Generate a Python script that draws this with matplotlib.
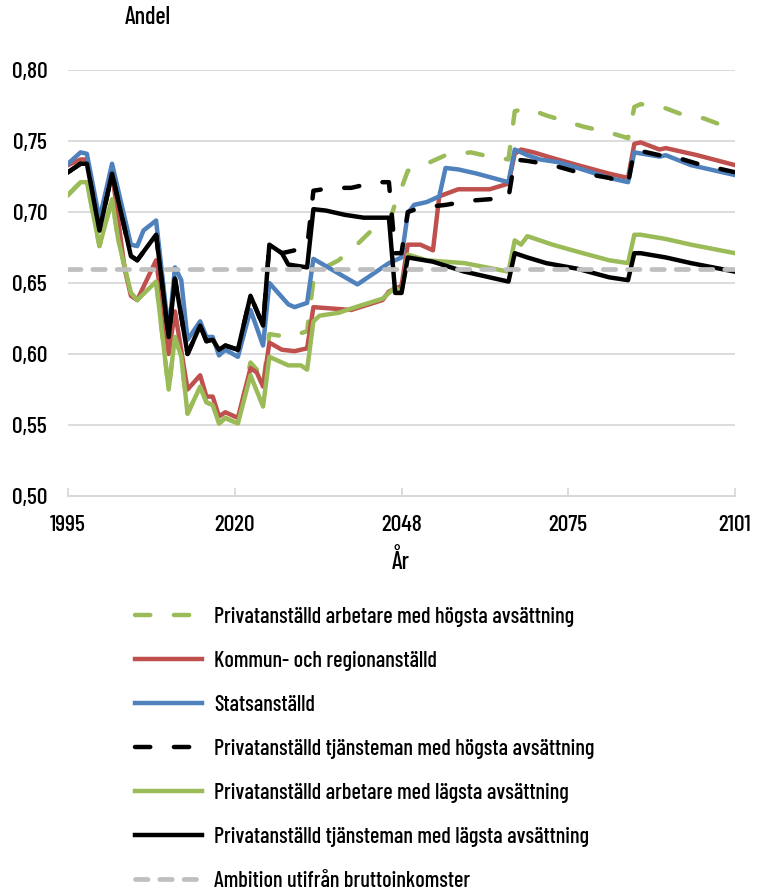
import matplotlib
matplotlib.use("Agg")  # headless
import matplotlib.pyplot as plt
import numpy as np

plt.rcParams["font.family"] = ["Barlow Condensed", "DejaVu Sans"]
plt.rcParams["font.weight"] = 500
plt.rcParams["lines.scale_dashes"] = False

GREEN, RED, BLUE, GRAY, GRID = "#9BBB59", "#C0504D", "#4F81BD", "#BFBFBF", "#D9D9D9"

# ---------- data ----------
# Privatanställd arbetare med högsta avsättning
yrs_arb_hog = [1995, 1997, 1998, 2000, 2002, 2003, 2005, 2006, 2009, 2011, 2012, 2013, 2014, 2016,
               2017, 2018, 2019, 2020, 2022, 2024, 2025, 2026, 2027, 2030, 2033, 2034, 2035, 2038,
               2040, 2043, 2046, 2047, 2048, 2049, 2052, 2055, 2059, 2061, 2065, 2066, 2068, 2071,
               2074, 2077, 2081, 2084, 2085, 2086, 2090, 2093, 2096, 2099, 2101]
arb_hog = [0.712, 0.721, 0.721, 0.676, 0.709, 0.680, 0.643, 0.638, 0.651, 0.575, 0.612, 0.598, 0.558, 0.577,
           0.566, 0.564, 0.551, 0.555, 0.551, 0.594, 0.589, 0.578, 0.614, 0.612, 0.616, 0.652, 0.659, 0.666,
           0.673, 0.686, 0.692, 0.706, 0.717, 0.729, 0.734, 0.740, 0.742, 0.740, 0.737, 0.771, 0.773, 0.768,
           0.764, 0.760, 0.756, 0.752, 0.774, 0.776, 0.773, 0.768, 0.766, 0.761, 0.758]

# Kommun- och regionanställd
yrs_kommun = [1995, 1997, 1998, 2000, 2002, 2004, 2005, 2006, 2009, 2011, 2012, 2014, 2016, 2017,
              2018, 2019, 2020, 2022, 2024, 2025, 2026, 2027, 2029, 2031, 2033, 2034, 2037, 2040,
              2045, 2046, 2048, 2049, 2051, 2053, 2054, 2057, 2062, 2065, 2066, 2067, 2069, 2072,
              2076, 2081, 2084, 2085, 2086, 2089, 2090, 2095, 2101]
kommun = [0.733, 0.737, 0.737, 0.690, 0.728, 0.660, 0.641, 0.638, 0.666, 0.600, 0.630, 0.575, 0.585, 0.570,
          0.570, 0.556, 0.559, 0.555, 0.590, 0.587, 0.577, 0.608, 0.603, 0.602, 0.604, 0.633, 0.632, 0.631,
          0.638, 0.644, 0.648, 0.677, 0.677, 0.673, 0.711, 0.716, 0.716, 0.720, 0.741, 0.744, 0.742, 0.738,
          0.733, 0.727, 0.724, 0.748, 0.749, 0.744, 0.745, 0.740, 0.733]

# Statsanställd
yrs_stat = [1995, 1996, 1997, 1998, 2000, 2002, 2005, 2006, 2007, 2009, 2011, 2012, 2013, 2014, 2016,
            2017, 2018, 2019, 2020, 2022, 2024, 2026, 2027, 2030, 2031, 2033, 2034, 2041, 2046, 2048,
            2049, 2050, 2052, 2054, 2055, 2057, 2060, 2065, 2066, 2068, 2070, 2073, 2076, 2081, 2084,
            2085, 2089, 2090, 2094, 2101]
stat = [0.734, 0.738, 0.742, 0.741, 0.695, 0.734, 0.677, 0.676, 0.687, 0.694, 0.615, 0.661, 0.652, 0.610, 0.623,
        0.612, 0.612, 0.599, 0.603, 0.598, 0.631, 0.606, 0.650, 0.635, 0.633, 0.636, 0.667, 0.649, 0.664, 0.668,
        0.699, 0.705, 0.707, 0.711, 0.731, 0.730, 0.727, 0.721, 0.744, 0.740, 0.737, 0.735, 0.731, 0.724, 0.721,
        0.742, 0.739, 0.740, 0.733, 0.726]

# Privatanställd tjänsteman med högsta avsättning
yrs_tj_hog = [1995, 1997, 1998, 2000, 2002, 2005, 2006, 2009, 2011, 2012, 2014, 2016, 2017, 2018, 2019,
              2020, 2022, 2024, 2026, 2027, 2029, 2033, 2034, 2037, 2040, 2044, 2046, 2047, 2048, 2049,
              2051, 2055, 2059, 2062, 2065, 2066, 2068, 2072, 2076, 2081, 2084, 2085, 2089, 2092, 2095, 2101]
tj_hog = [0.728, 0.734, 0.734, 0.687, 0.727, 0.669, 0.666, 0.684, 0.612, 0.653, 0.600, 0.620, 0.609, 0.610, 0.603,
          0.606, 0.603, 0.641, 0.620, 0.677, 0.671, 0.675, 0.715, 0.717, 0.717, 0.721, 0.721, 0.671, 0.671, 0.700,
          0.703, 0.705, 0.708, 0.709, 0.710, 0.737, 0.736, 0.733, 0.728, 0.724, 0.720, 0.744, 0.740, 0.738, 0.734, 0.728]

# Privatanställd arbetare med lägsta avsättning
yrs_arb_lag = [1995, 1997, 1998, 2000, 2002, 2003, 2005, 2006, 2009, 2011, 2012, 2013, 2014, 2016, 2017,
               2018, 2019, 2020, 2022, 2024, 2026, 2027, 2030, 2032, 2033, 2034, 2035, 2038, 2040, 2045,
               2047, 2048, 2049, 2052, 2058, 2065, 2066, 2067, 2068, 2072, 2076, 2081, 2084, 2085, 2086,
               2090, 2094, 2101]
arb_lag = [0.712, 0.721, 0.721, 0.676, 0.709, 0.680, 0.643, 0.638, 0.651, 0.575, 0.612, 0.598, 0.558, 0.577, 0.566,
           0.564, 0.551, 0.555, 0.551, 0.585, 0.563, 0.598, 0.592, 0.592, 0.589, 0.623, 0.627, 0.629, 0.632, 0.639,
           0.647, 0.643, 0.670, 0.666, 0.664, 0.658, 0.680, 0.677, 0.683, 0.677, 0.672, 0.666, 0.664, 0.684, 0.684,
           0.681, 0.677, 0.671]

# Privatanställd tjänsteman med lägsta avsättning
yrs_tj_lag = [1995, 1997, 1998, 2000, 2002, 2005, 2006, 2009, 2011, 2012, 2014, 2016, 2017, 2018, 2019,
              2020, 2022, 2024, 2026, 2027, 2029, 2030, 2033, 2034, 2036, 2039, 2042, 2046, 2047, 2048,
              2049, 2053, 2058, 2065, 2066, 2068, 2071, 2076, 2081, 2084, 2085, 2086, 2090, 2094, 2101]
tj_lag = [0.728, 0.734, 0.734, 0.687, 0.727, 0.669, 0.666, 0.684, 0.612, 0.653, 0.600, 0.620, 0.609, 0.610, 0.603,
          0.606, 0.603, 0.641, 0.620, 0.677, 0.671, 0.663, 0.661, 0.702, 0.701, 0.698, 0.696, 0.696, 0.643, 0.643,
          0.668, 0.665, 0.658, 0.651, 0.671, 0.668, 0.664, 0.660, 0.654, 0.652, 0.671, 0.671, 0.668, 0.664, 0.658]

# Ambition utifrån bruttoinkomster
yrs_ambition = [1995, 2101]
ambition = [0.66, 0.66]

y_ticks = [0.50, 0.55, 0.60, 0.65, 0.70, 0.75, 0.80]
x_ticklabels = ["1995", "2020", "2048", "2075", "2101"]

# ---------- plot ----------
fig = plt.figure(figsize=(7.59, 8.91), dpi=100)
ax = fig.add_axes([68 / 759, 1 - 496 / 891, 667 / 759, 426 / 891])

LW = 3.2
common = dict(lw=LW, solid_joinstyle="round", dash_joinstyle="round")
long_dash = (0, (11.0, 17.0))
ax.plot(yrs_arb_hog, arb_hog, color=GREEN, ls=long_dash, dash_capstyle="round",
        label="Privatanställd arbetare med högsta avsättning", **common)
ax.plot(yrs_kommun, kommun, color=RED, label="Kommun- och regionanställd", **common)
ax.plot(yrs_stat, stat, color=BLUE, label="Statsanställd", **common)
ax.plot(yrs_tj_hog, tj_hog, color="black", ls=long_dash, dash_capstyle="round",
        label="Privatanställd tjänsteman med högsta avsättning", **common)
ax.plot(yrs_arb_lag, arb_lag, color=GREEN, label="Privatanställd arbetare med lägsta avsättning", **common)
ax.plot(yrs_tj_lag, tj_lag, color="black", label="Privatanställd tjänsteman med lägsta avsättning", **common)
ax.plot(yrs_ambition, ambition, color=GRAY, lw=3.4, ls=(0, (9.0, 8.5)), dash_capstyle="round",
        label="Ambition utifrån bruttoinkomster")

ax.set_xlim(yrs_ambition[0], yrs_ambition[-1])
ax.set_ylim(y_ticks[0], y_ticks[-1])
ax.set_yticks(y_ticks)
ax.set_yticklabels([f"{v:.2f}".replace(".", ",") for v in y_ticks])
ax.set_xticks(np.linspace(yrs_ambition[0], yrs_ambition[-1], len(x_ticklabels)))
ax.set_xticklabels(x_ticklabels)

for s in ("top", "right", "left"):
    ax.spines[s].set_visible(False)
ax.spines["bottom"].set_color(GRID)
ax.spines["bottom"].set_linewidth(1.5)
ax.yaxis.grid(True, color=GRID, lw=1.3)
ax.set_axisbelow(True)
ax.tick_params(axis="y", length=0, pad=15, labelsize=17)
ax.tick_params(axis="x", direction="in", length=6, width=1.3, color=GRID, pad=14, labelsize=17)

fig.text(148 / 759, 1 - 17 / 891, "Andel", ha="center", va="center", fontsize=17.5)
fig.text(401 / 759, 1 - 562 / 891, "År", ha="center", va="center", fontsize=17.5)

ax.legend(loc="upper left", bbox_to_anchor=(135 / 759, 1 - 607 / 891), bbox_transform=fig.transFigure,
          frameon=False, fontsize=16, borderpad=0, borderaxespad=0, handlelength=3.0,
          handletextpad=0.55, labelspacing=1.08)

fig.savefig("out.png", dpi=100)
